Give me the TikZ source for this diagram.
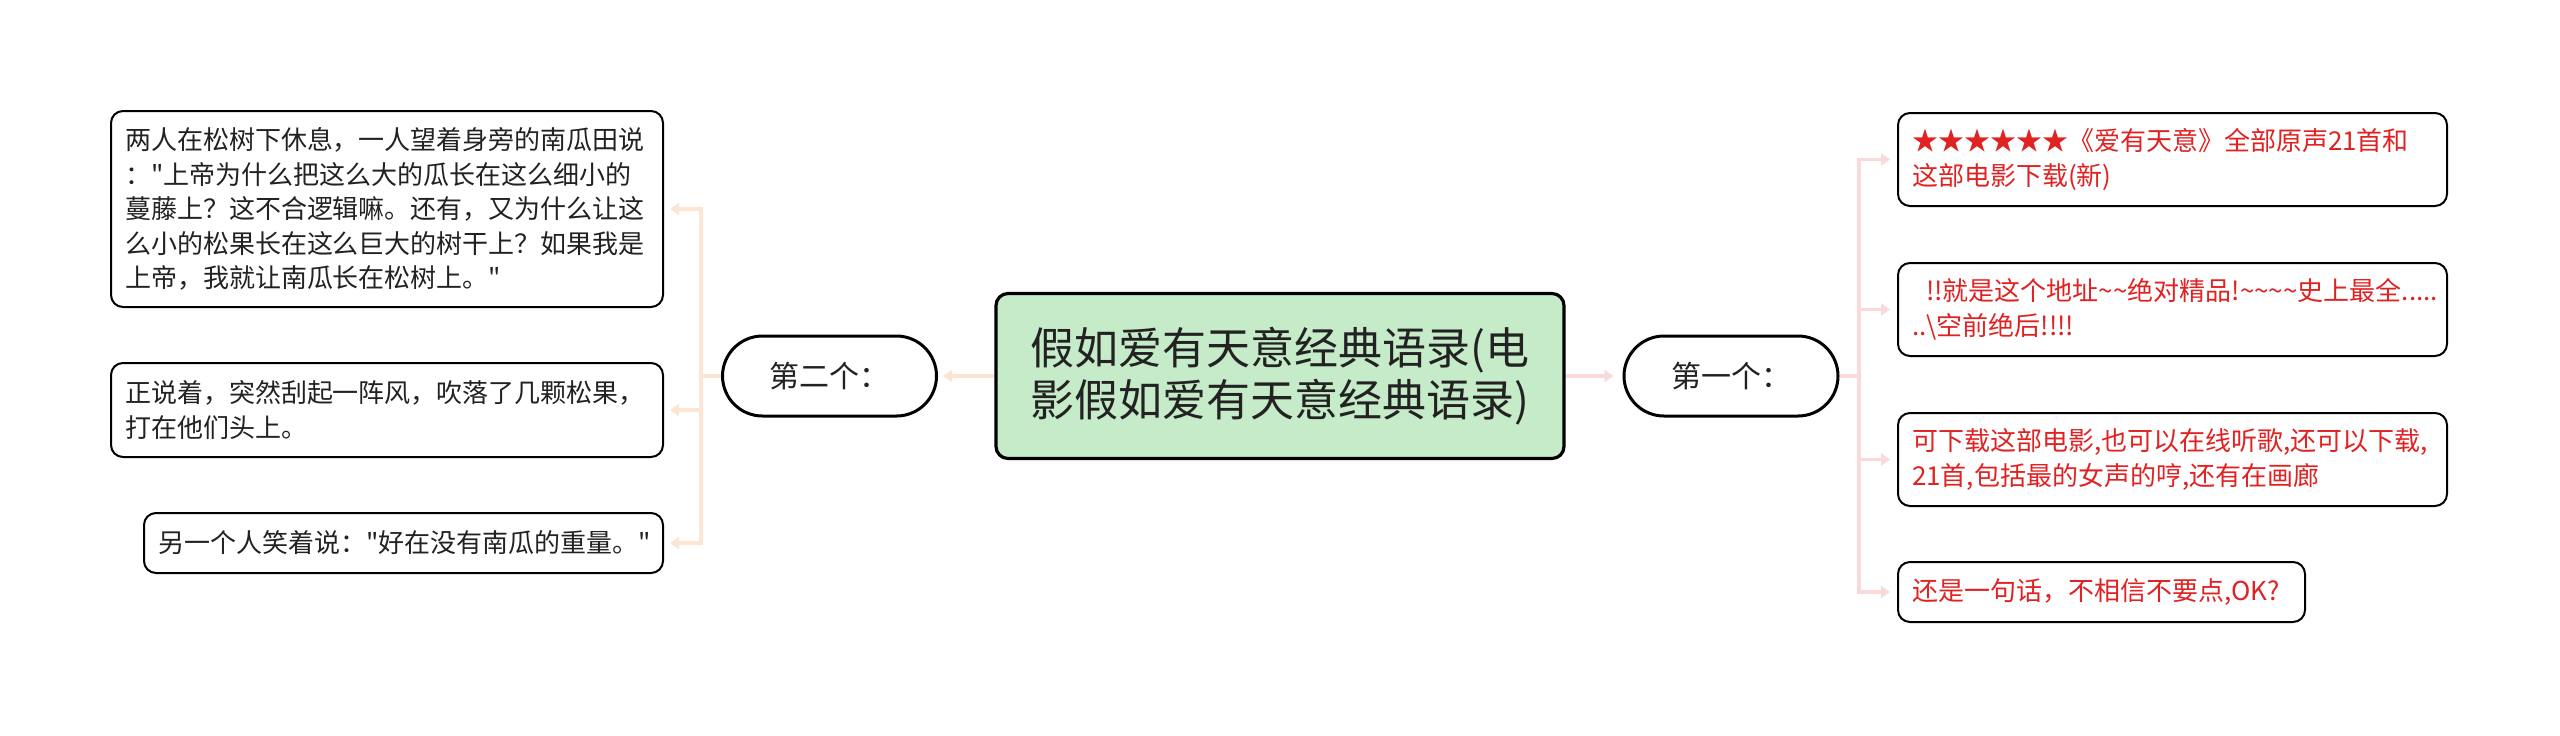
\documentclass[tikz,border=0pt]{standalone}
\usepackage{fontspec}
\newfontfamily\cjk{Noto Sans CJK SC}
\usetikzlibrary{arrows.meta}
\definecolor{topicgreen}{HTML}{C6EBC8}
\definecolor{peachline}{HTML}{FCE6D3}
\definecolor{pinkline}{HTML}{F9D9D9}
\definecolor{quotered}{HTML}{E02222}
\definecolor{inkgray}{HTML}{222222}
\tikzset{
  topic/.style={draw=black, line width=1.6pt, rounded corners=6pt, fill=topicgreen,
    text=inkgray, minimum width=284pt, minimum height=82.5pt, align=center,
    font=\cjk\fontsize{22}{26}\selectfont},
  branch/.style={draw=black, line width=1.5pt, rounded corners=20pt, fill=white,
    minimum width=107pt, minimum height=40pt, text=inkgray,
    font=\cjk\fontsize{15}{18}\selectfont},
  leaf/.style={draw=black, line width=1pt, rounded corners=6pt, fill=white,
    inner xsep=7pt, inner ysep=0pt, align=left, text width=#1, text=inkgray,
    font=\cjk\fontsize{13}{17.25}\selectfont},
  redleaf/.style={leaf=#1, text=quotered},
  link/.style={line width=1.6pt, -{Triangle[length=4.5pt,width=6pt]}},
}

\begin{document}
\begin{tikzpicture}[x=1pt,y=-1pt]
\path[use as bounding box, fill=white] (0,0) rectangle (1280,367.5);

\node[topic] (main) at (640,188) {假如爱有天意经典语录(电\\影假如爱有天意经典语录)};

\node[branch] (second) at (414.75,188) {第二个：};
\node[branch] (first) at (865.5,188) {第一个：};

% left side
\node[leaf=262pt, minimum height=98pt] (talk) at (193.5,104.5)
  {两人在松树下休息，一人望着身旁的南瓜田说\\："上帝为什么把这么大的瓜长在这么细小的\\蔓藤上？这不合逻辑嘛。还有，又为什么让这\\么小的松果长在这么巨大的树干上？如果我是\\上帝，我就让南瓜长在松树上。"};
\node[leaf=262pt, minimum height=47pt] (wind) at (193.5,205)
  {正说着，突然刮起一阵风，吹落了几颗松果，\\打在他们头上。};
\node[leaf=245.5pt, minimum height=30pt] (laugh) at (201.75,271.5)
  {另一个人笑着说："好在没有南瓜的重量。"};

% right side
\node[redleaf=260.5pt, minimum height=46.5pt] (stars) at (1086.25,79.75)
  {★★★★★★《爱有天意》全部原声21首和\\这部电影下载(新)};
\node[redleaf=260.5pt, minimum height=46.5pt] (addr) at (1086.25,154.75)
  {\hspace*{7pt}!!就是这个地址\textasciitilde\textasciitilde 绝对精品!\textasciitilde\textasciitilde\textasciitilde\textasciitilde 史上最全.....\\..\textbackslash 空前绝后!!!!};
\node[redleaf=260.5pt, minimum height=46.5pt] (down) at (1086.25,229.75)
  {可下载这部电影,也可以在线听歌,还可以下载,\\21首,包括最的女声的哼,还有在画廊};
\node[redleaf=189.5pt, minimum height=30pt] (okay) at (1050.75,296)
  {还是一句话，不相信不要点,OK?};

% connectors
\draw[link, peachline, shorten >=2.5pt] (main.west) -- (second.east);
\draw[link, pinkline, shorten >=4.5pt] (main.east) -- (first.west);

\coordinate (lsplit) at (350.5,188);
\coordinate (rsplit) at (929.5,188);
\draw[peachline, line width=1.6pt] (second.west) -- (lsplit);
\draw[pinkline, line width=1.6pt] (first.east) -- (rsplit);

\foreach \leafname in {talk,wind,laugh}
  \draw[link, peachline, shorten >=3pt] (lsplit) |- (\leafname.east);
\foreach \leafname in {stars,addr,down,okay}
  \draw[link, pinkline, shorten >=3.5pt] (rsplit) |- (\leafname.west);
\end{tikzpicture}
\end{document}
